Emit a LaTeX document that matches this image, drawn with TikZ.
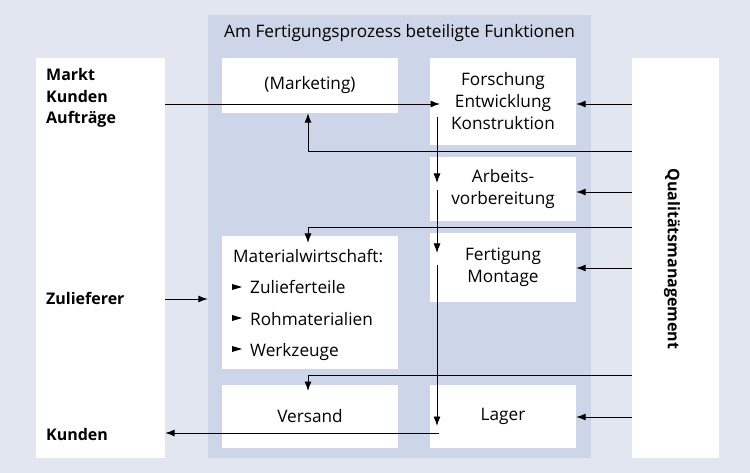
\documentclass[tikz,border=0pt]{standalone}
\usepackage{fontspec}
\setmainfont{Open Sans}
\usetikzlibrary{arrows.meta,calc}
\definecolor{bgouter}{HTML}{E1E6F0}
\definecolor{bginner}{HTML}{CCD6E8}
\begin{document}
\begin{tikzpicture}[x=1pt,y=-1pt,
  txt/.style={font=\fontsize{17.2}{22}\selectfont, inner sep=0pt},
  btxt/.style={font=\fontsize{16}{21.5}\selectfont\bfseries, inner sep=0pt},
  wbox/.style={fill=white, inner sep=0pt, align=center, font=\fontsize{17.2}{22}\selectfont},
  conn/.style={line width=0.95pt},
  arr/.style={conn, -{Latex[length=9.5pt,width=7pt]}}]
\fill[bgouter] (0,0) rectangle (750,473);
\useasboundingbox (0,0) rectangle (750,473);
% panel
\node[fill=bginner, inner sep=0pt, minimum width=383pt, minimum height=443pt] (panel) at (399.5,236.5) {};
\node[txt, anchor=base west] (title) at (224,38) {Am Fertigungsprozess beteiligte Funktionen};
% outer boxes
\node[wbox, minimum width=129pt, minimum height=400pt] (leftbox) at (100.5,258) {};
\node[wbox, minimum width=87pt, minimum height=400pt] (qm) at (675.5,258) {};
\node[btxt, rotate=-90] (qmtext) at (672,259) {Qualitätsmanagement};
\node[btxt, anchor=base west] (markt) at (46,81) {Markt};
\node[btxt, anchor=base west] (kunden1) at (46,102.5) {Kunden};
\node[btxt, anchor=base west] (auftr) at (46,124) {Aufträge};
\node[btxt, anchor=base west] (zulief) at (46,305) {Zulieferer};
\node[btxt, anchor=base west] (kunden2) at (46,440) {Kunden};
% inner boxes
\node[wbox, minimum width=176pt, minimum height=55pt] (mkt) at (310,85.5) {(Marketing)};
\node[wbox, minimum width=146pt, minimum height=87pt] (fek) at (503,101.5) {Forschung\\Entwicklung\\Konstruktion};
\node[wbox, minimum width=146pt, minimum height=64pt] (av) at (503,189) {Arbeits-\\vorbereitung};
\node[wbox, minimum width=146pt, minimum height=69pt] (fm) at (503,267.5) {Fertigung\\Montage};
\node[wbox, minimum width=176pt, minimum height=133pt] (mw) at (310,302.5) {};
\node[wbox, minimum width=176pt, minimum height=63pt] (vs) at (310,416.5) {Versand};
\node[wbox, minimum width=146pt, minimum height=63pt] (lg) at (503,416.5) {Lager};
% Materialwirtschaft contents
\node[txt, anchor=base west] (mwt) at (233,263) {Materialwirtschaft:};
\node[txt, anchor=base west] (mw1) at (250,294) {Zulieferteile};
\node[txt, anchor=base west] (mw2) at (250,325) {Rohmaterialien};
\node[txt, anchor=base west] (mw3) at (250,356) {Werkzeuge};
\foreach \b in {294,325,356}
  \fill (232,\b-10) -- (242,\b-7) -- (232,\b-4) -- cycle;
% coordinates
\coordinate (fekin) at (440,104);
\coordinate (mktbus) at (308,151);
\coordinate (mwbus) at (308,227);
\coordinate (vsbus) at (308,375);
\coordinate (mwin) at (308,243);
\coordinate (vsin) at (308,391);
\coordinate (v1s) at (437,117);
\coordinate (v1e) at (437,183);
\coordinate (v2s) at (437,190);
\coordinate (v2e) at (437,253);
\coordinate (v3s) at (437,265);
\coordinate (v3e) at (437,426);
\coordinate (kout) at (439,433);
% connectors
\draw[arr] (leftbox.east |- fekin) -- (fekin);
\draw[arr] (qm.west |- fekin) -- (fek.east |- fekin);
\draw[arr] (qm.west |- mktbus) -- (mktbus) -- (mktbus |- mkt.south);
\draw[arr] (qm.west |- 0,192) -- (av.east |- 0,192);
\draw[arr] (qm.west |- mwbus) -- (mwbus) -- (mwin);
\draw[arr] (qm.west |- 0,268) -- (fm.east |- 0,268);
\draw[arr] (qm.west |- vsbus) -- (vsbus) -- (vsin);
\draw[arr] (qm.west |- 0,417) -- (lg.east |- 0,417);
\draw[arr] (v1s) -- (v1e);
\draw[arr] (v2s) -- (v2e);
\draw[arr] (v3s) -- (v3e);
\draw[arr] (kout) -- (leftbox.east |- kout);
\draw[arr] (leftbox.east |- 0,299) -- (panel.west |- 0,299);
\end{tikzpicture}
\end{document}
